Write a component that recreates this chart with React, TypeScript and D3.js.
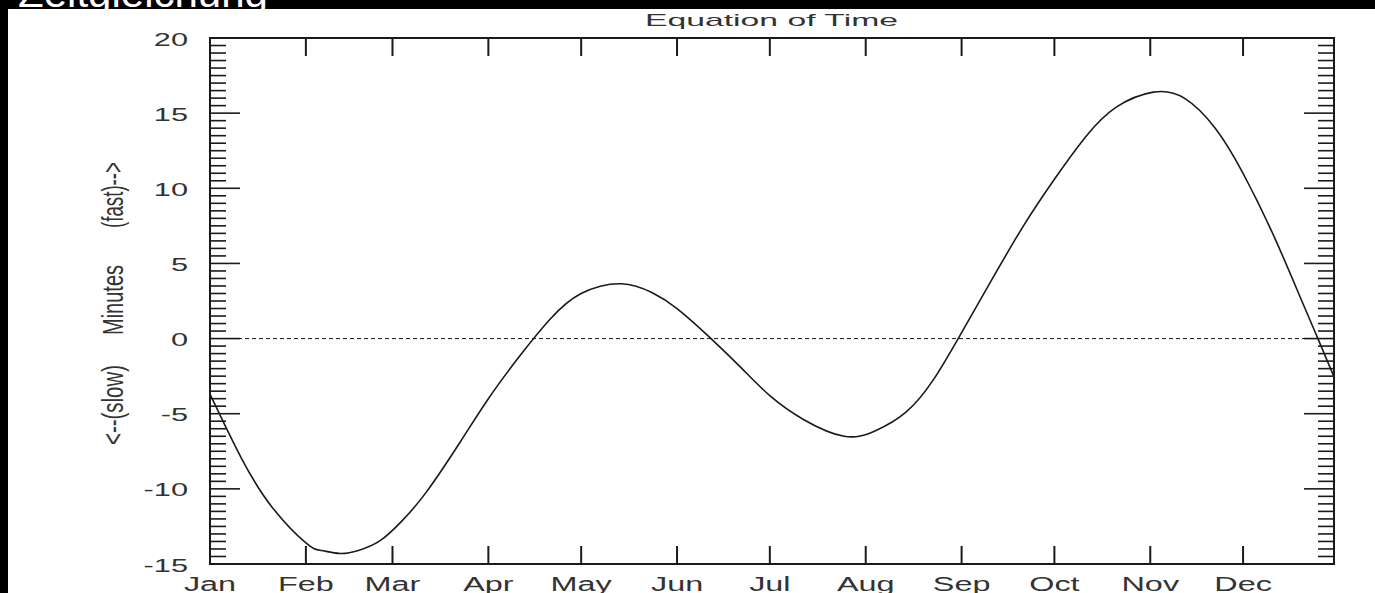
import React from "react";
import * as d3 from "d3";

const months = ["Jan", "Feb", "Mar", "Apr", "May", "Jun", "Jul", "Aug", "Sep", "Oct", "Nov", "Dec"];
const monthStartDays = [0, 31, 59, 90, 120, 151, 181, 212, 243, 273, 304, 334];
const yTicks = [-15, -10, -5, 0, 5, 10, 15, 20];

const dayOfYear = [0, 10, 20, 31, 36, 42, 48, 55, 62, 70, 81, 90, 100, 110, 120, 133, 143, 151, 162, 172, 181, 192, 205, 215, 225, 234, 243, 253, 263, 273, 283, 293, 305, 315, 325, 334, 344, 353, 358.2, 363.4];
const minutes = [-3.7, -7.9, -11.2, -13.6, -14.1, -14.3, -14.1, -13.45, -12.15, -10.2, -6.85, -4.0, -1.2, 1.3, 3.0, 3.65, 3.05, 2.0, 0.0, -2.0, -3.8, -5.4, -6.5, -6.15, -4.9, -2.7, 0.4, 4.0, 7.5, 10.6, 13.4, 15.4, 16.4, 16.0, 14.0, 11.0, 6.8, 2.5, 0, -2.55];

const FONT = "'Liberation Sans', Arial, Helvetica, sans-serif";
const INK = "#1a1a1a";

export default function App() {
  const W = 1375, H = 593;
  const left = 210, right = 1334, top = 38, bottom = 564;
  const x = d3.scaleLinear().domain([0, 363.4]).range([left, right]);
  const y = d3.scaleLinear().domain([-15, 20]).range([bottom, top]);
  const pts = dayOfYear.map((d, i) => [d, minutes[i]] as [number, number]);
  const line = d3.line<[number, number]>().x(d => x(d[0])).y(d => y(d[1])).curve(d3.curveNatural);
  const minor = d3.range(-15, 20.001, 0.5);
  const sx = 1.62;

  return (
    <svg width={W} height={H} style={{ position: "absolute", left: 0, top: 0, display: "block" }}>
      <rect x={0} y={0} width={W} height={H} fill="#000" />
      <text x={18} y={7} fill="#fff" fontFamily={FONT} fontSize={40} textLength={250} lengthAdjust="spacingAndGlyphs">Zeitgleichung</text>
      <rect x={8} y={9} width={W - 8} height={H - 9} fill="#fff" />

      {/* title */}
      <text x={(645 + 898) / 2} y={25.5} textAnchor="middle" fontFamily={FONT} fontSize={17} fill="#333" textLength={253} lengthAdjust="spacingAndGlyphs">Equation of Time</text>

      {/* zero line */}
      <line x1={left} x2={right} y1={y(0)} y2={y(0)} stroke={INK} strokeWidth={1} strokeDasharray="4,3" />

      {/* y minor/major ticks */}
      {minor.map((v, i) => {
        const isMajor = Math.abs(v % 5) < 1e-6;
        const len = isMajor ? 30 : 16;
        return (
          <g key={"m" + i}>
            <line x1={left} x2={left + len} y1={y(v)} y2={y(v)} stroke={INK} strokeWidth={1.6} />
            <line x1={right} x2={right - len} y1={y(v)} y2={y(v)} stroke={INK} strokeWidth={1.6} />
          </g>
        );
      })}

      {/* x ticks */}
      {monthStartDays.map((d, i) => (
        <g key={"x" + i}>
          <line x1={x(d)} x2={x(d)} y1={top} y2={top + 18} stroke={INK} strokeWidth={2} />
          <line x1={x(d)} x2={x(d)} y1={bottom} y2={bottom - 18} stroke={INK} strokeWidth={2} />
          <g transform={`translate(${x(d)},591) scale(${sx},1)`}>
            <text x={0} y={0} textAnchor="middle" fontFamily={FONT} fontSize={20} fill="#333">{months[i]}</text>
          </g>
        </g>
      ))}

      {/* y labels */}
      {yTicks.map((v) => (
        <g key={"yl" + v} transform={`translate(188,${y(v) + 7.5}) scale(${sx},1)`}>
          <text x={0} y={0} textAnchor="end" fontFamily={FONT} fontSize={19} fill="#333">{v}</text>
        </g>
      ))}

      {/* y axis title */}
      {[
        { t: "(fast)-->", c: 195, len: 66 },
        { t: "Minutes", c: 300, len: 70 },
        { t: "<--(slow)", c: 405, len: 80 },
      ].map((o) => (
        <g key={o.t} transform={`translate(123,${o.c}) scale(1.6,1) rotate(-90)`}>
          <text x={0} y={0} textAnchor="middle" fontFamily={FONT} fontSize={19} fill="#333" textLength={o.len} lengthAdjust="spacingAndGlyphs">{o.t}</text>
        </g>
      ))}

      {/* curve */}
      <path d={line(pts) || ""} fill="none" stroke={INK} strokeWidth={1.6} />

      {/* frame */}
      <rect x={left} y={top} width={right - left} height={bottom - top} fill="none" stroke={INK} strokeWidth={2} />
    </svg>
  );
}
